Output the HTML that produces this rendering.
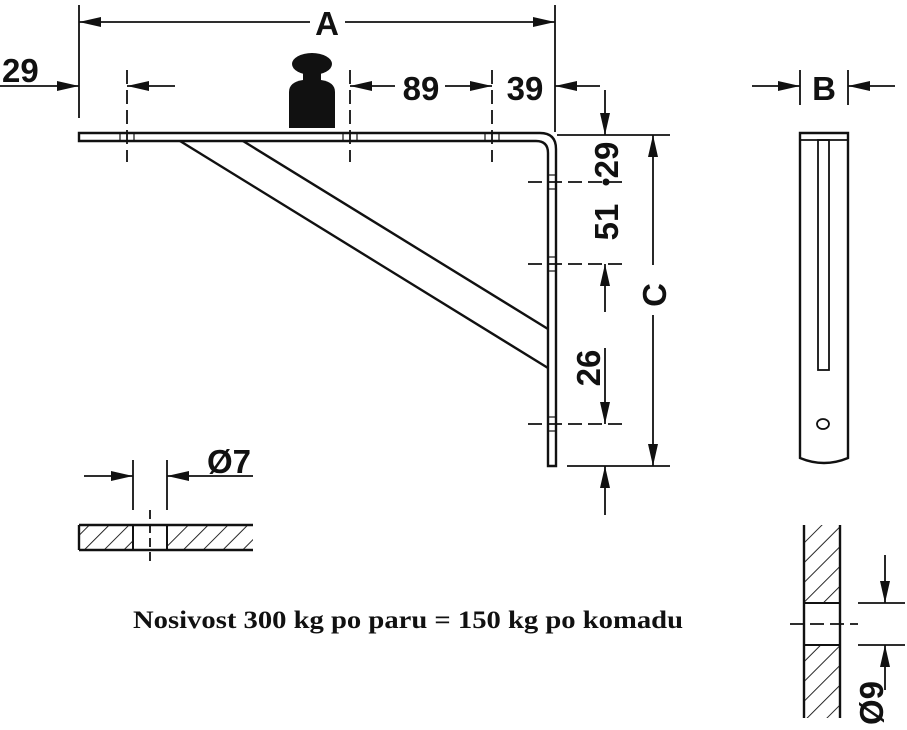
<!DOCTYPE html>
<html><head><meta charset="utf-8"><style>
html,body{margin:0;padding:0;background:#fff;}
svg{display:block;}
.d{font-family:"Liberation Sans",sans-serif;font-weight:bold;font-size:33px;fill:#111;}
</style></head><body>
<svg width="907" height="730" viewBox="0 0 907 730" xmlns="http://www.w3.org/2000/svg">
<defs>
<marker id="ar" viewBox="0 0 22 10" refX="22" refY="5" markerWidth="22" markerHeight="10" markerUnits="userSpaceOnUse" orient="auto">
<path d="M0,0 L22,5 L0,10 z" fill="#111"/></marker>
<pattern id="h" patternUnits="userSpaceOnUse" width="14" height="14" patternTransform="rotate(45)">
<line x1="0" y1="0" x2="0" y2="14" stroke="#111" stroke-width="1.8"/></pattern>
</defs>
<g stroke="#111" stroke-width="1.8" fill="none">
<line x1="79" y1="5" x2="79" y2="118"/>
<line x1="555" y1="5" x2="555" y2="132"/>
<line x1="310" y1="22" x2="79" y2="22" marker-end="url(#ar)"/>
<line x1="345" y1="22" x2="555" y2="22" marker-end="url(#ar)"/>
<line x1="0" y1="86" x2="79" y2="86" marker-end="url(#ar)"/>
<line x1="175" y1="86" x2="127" y2="86" marker-end="url(#ar)"/>
<line x1="127" y1="70" x2="127" y2="162" stroke-dasharray="14,6"/>
<line x1="350" y1="70" x2="350" y2="162" stroke-dasharray="14,6"/>
<line x1="395" y1="86" x2="350" y2="86" marker-end="url(#ar)"/>
<line x1="445" y1="86" x2="492" y2="86" marker-end="url(#ar)"/>
<line x1="492" y1="70" x2="492" y2="162" stroke-dasharray="14,6"/>
<line x1="600" y1="86" x2="555" y2="86" marker-end="url(#ar)"/>
<path d="M79,133 L540,133 Q556,133 556,149 L556,466 L548,466 L548,153 Q548,141 536,141 L79,141 Z" stroke-width="2.4"/>
<line x1="180" y1="141" x2="548" y2="368" stroke-width="2.4"/>
<line x1="243" y1="141" x2="548" y2="329" stroke-width="2.4"/>
<g stroke-width="1.2">
<line x1="120" y1="133" x2="120" y2="141"/><line x1="134" y1="133" x2="134" y2="141"/>
<line x1="343" y1="133" x2="343" y2="141"/><line x1="357" y1="133" x2="357" y2="141"/>
<line x1="485" y1="133" x2="485" y2="141"/><line x1="499" y1="133" x2="499" y2="141"/>
<line x1="548" y1="175" x2="556" y2="175"/><line x1="548" y1="189" x2="556" y2="189"/>
<line x1="548" y1="257" x2="556" y2="257"/><line x1="548" y1="271" x2="556" y2="271"/>
<line x1="548" y1="417" x2="556" y2="417"/><line x1="548" y1="431" x2="556" y2="431"/>
</g>
<line x1="557" y1="135" x2="670" y2="135"/>
<line x1="567" y1="466" x2="670" y2="466"/>
<line x1="528" y1="182" x2="622" y2="182" stroke-dasharray="14,6"/>
<line x1="528" y1="264" x2="622" y2="264" stroke-dasharray="14,6"/>
<line x1="528" y1="424" x2="622" y2="424" stroke-dasharray="14,6"/>
<line x1="653" y1="265" x2="653" y2="135" marker-end="url(#ar)"/>
<line x1="653" y1="315" x2="653" y2="466" marker-end="url(#ar)"/>
<line x1="605" y1="90" x2="605" y2="135" marker-end="url(#ar)"/>
<line x1="605" y1="312" x2="605" y2="264" marker-end="url(#ar)"/>
<line x1="605" y1="348" x2="605" y2="424" marker-end="url(#ar)"/>
<line x1="605" y1="515" x2="605" y2="466" marker-end="url(#ar)"/>
<line x1="800" y1="70" x2="800" y2="105"/>
<line x1="848" y1="70" x2="848" y2="105"/>
<line x1="752" y1="86" x2="800" y2="86" marker-end="url(#ar)"/>
<line x1="895" y1="86" x2="848" y2="86" marker-end="url(#ar)"/>
<path d="M800,133 L848,133 L848,458 Q824,468 800,458 Z" stroke-width="2.4"/>
<line x1="800" y1="140" x2="848" y2="140"/>
<rect x="818" y="140" width="11" height="230"/>
<ellipse cx="823" cy="424" rx="6" ry="5"/>
<rect x="79" y="525" width="174" height="25" fill="url(#h)" stroke="none"/>
<rect x="133" y="525" width="34" height="25" fill="#fff" stroke-width="2"/>
<line x1="79" y1="525" x2="253" y2="525" stroke-width="2.4"/>
<line x1="79" y1="550" x2="253" y2="550" stroke-width="2.4"/>
<line x1="79" y1="525" x2="79" y2="550" stroke-width="2.4"/>
<line x1="150" y1="510" x2="150" y2="565" stroke-dasharray="9,5"/>
<line x1="133" y1="460" x2="133" y2="510"/>
<line x1="167" y1="460" x2="167" y2="510"/>
<line x1="84" y1="476" x2="133" y2="476" marker-end="url(#ar)"/>
<line x1="253" y1="476" x2="167" y2="476" marker-end="url(#ar)"/>
<rect x="804" y="525" width="36" height="193" fill="url(#h)" stroke="none"/>
<rect x="804" y="603" width="36" height="42" fill="#fff" stroke-width="2"/>
<line x1="804" y1="525" x2="804" y2="718" stroke-width="2.4"/>
<line x1="840" y1="525" x2="840" y2="718" stroke-width="2.4"/>
<line x1="790" y1="624" x2="858" y2="624" stroke-dasharray="14,6"/>
<line x1="858" y1="603" x2="905" y2="603"/>
<line x1="858" y1="645" x2="905" y2="645"/>
<line x1="885" y1="555" x2="885" y2="603" marker-end="url(#ar)"/>
<line x1="885" y1="690" x2="885" y2="645" marker-end="url(#ar)"/>
</g>
<g fill="#111">
<ellipse cx="312" cy="64" rx="20" ry="11"/>
<rect x="303" y="70" width="18" height="14"/>
<path d="M289,128 L289,92 Q289,82 303,80 L321,80 Q335,82 335,92 L335,128 Z"/>
<circle cx="606" cy="182" r="3.5"/>
</g>
<text class="d" x="327" y="35" text-anchor="middle">A</text>
<text class="d" x="2" y="82">29</text>
<text class="d" x="421" y="100" text-anchor="middle">89</text>
<text class="d" x="525" y="100" text-anchor="middle">39</text>
<text class="d" x="824" y="100" text-anchor="middle">B</text>
<text class="d" x="229" y="473" text-anchor="middle">Ø7</text>
<text class="d" transform="translate(618,160) rotate(-90)" text-anchor="middle">29</text>
<text class="d" transform="translate(618,222) rotate(-90)" text-anchor="middle">51</text>
<text class="d" transform="translate(600,368) rotate(-90)" text-anchor="middle">26</text>
<text class="d" transform="translate(666,295) rotate(-90)" text-anchor="middle">C</text>
<text class="d" transform="translate(883,703) rotate(-90)" text-anchor="middle">Ø9</text>
<text x="133" y="628" textLength="550" lengthAdjust="spacingAndGlyphs" style="font-family:'Liberation Serif',serif;font-weight:bold;font-size:25px;fill:#111">Nosivost 300 kg po paru = 150 kg po komadu</text>
</svg>
</body></html>
